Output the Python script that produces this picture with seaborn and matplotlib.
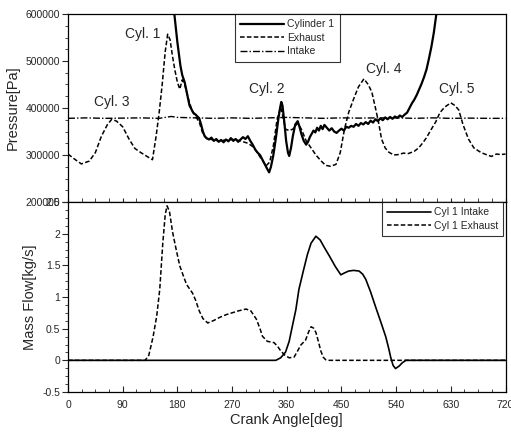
import matplotlib
matplotlib.use("Agg")
import matplotlib.pyplot as plt
import seaborn as sns
import pandas as pd
from matplotlib.ticker import MultipleLocator, AutoMinorLocator, FixedLocator

# ---------------- data ----------------
cyl_angle = [170, 175, 180, 185, 188, 192, 196, 200, 203, 206, 210, 213, 216, 219, 222, 225, 228,
             232, 236, 240, 244, 248, 252, 256, 260, 264, 268, 272, 276, 280, 284, 288, 292, 296,
             300, 304, 308, 312, 316, 320, 324, 328, 331, 334, 338, 342, 346, 349, 351, 353, 356,
             359, 362, 364, 367, 370, 374, 378, 381, 384, 388, 392, 395, 398, 401, 404, 407, 410,
             413, 416, 419, 422, 426, 430, 434, 438, 442, 446, 450, 454, 458, 462, 466, 470, 474,
             478, 482, 486, 490, 494, 498, 502, 506, 510, 514, 518, 522, 526, 530, 534, 538, 542,
             546, 550, 554, 558, 562, 566, 570, 574, 578, 582, 586, 590, 594, 598, 602, 606, 610]
cyl_pressure = [640000, 600000, 540000, 490000, 470000, 455000, 430000, 405000, 398000, 390000,
                386000, 382000, 378000, 365000, 350000, 340000, 336000, 333000, 337000, 330000,
                334000, 328000, 332000, 327000, 333000, 329000, 336000, 330000, 334000, 328000,
                333000, 338000, 334000, 340000, 330000, 322000, 312000, 305000, 300000, 290000,
                280000, 270000, 263000, 275000, 300000, 335000, 375000, 400000, 413000, 405000,
                370000, 330000, 305000, 298000, 315000, 340000, 365000, 372000, 360000, 345000,
                330000, 322000, 328000, 338000, 345000, 352000, 348000, 358000, 352000, 362000,
                355000, 364000, 358000, 352000, 357000, 350000, 347000, 352000, 356000, 352000,
                360000, 358000, 362000, 360000, 366000, 362000, 368000, 365000, 370000, 366000,
                373000, 369000, 376000, 372000, 378000, 374000, 380000, 376000, 381000, 377000,
                382000, 379000, 384000, 381000, 386000, 390000, 400000, 410000, 418000, 428000,
                440000, 452000, 466000, 482000, 505000, 530000, 560000, 598000, 640000]

exh_angle = [0, 10, 22, 35, 45, 55, 65, 72, 80, 90, 100, 110, 120, 130, 139, 145, 150, 155, 160,
             164, 168, 172, 176, 180, 184, 188, 192, 198, 204, 210, 216, 222, 228, 236, 248, 260,
             272, 284, 296, 304, 310, 318, 326, 332, 338, 344, 350, 354, 358, 364, 370, 378, 384,
             392, 400, 408, 416, 424, 432, 441, 448, 455, 462, 470, 478, 487, 494, 500, 506, 511,
             516, 522, 528, 536, 544, 552, 560, 570, 577, 584, 590, 598, 605, 612, 620, 630, 637,
             643, 650, 659, 668, 680, 690, 697, 705, 712, 720]
exh_pressure = [302000, 292000, 281000, 287000, 305000, 340000, 365000, 376000, 372000, 360000,
                335000, 314000, 305000, 297000, 290000, 340000, 390000, 450000, 520000, 557000,
                545000, 510000, 480000, 455000, 440000, 460000, 450000, 420000, 395000, 382000,
                370000, 345000, 335000, 333000, 330000, 332000, 333000, 330000, 325000, 318000,
                308000, 292000, 277000, 285000, 320000, 375000, 402000, 380000, 355000, 352000,
                355000, 368000, 355000, 330000, 315000, 300000, 288000, 278000, 276000, 280000,
                305000, 355000, 391000, 419000, 445000, 462000, 450000, 434000, 400000, 370000,
                334000, 315000, 306000, 300000, 301000, 304000, 303000, 308000, 315000, 326000,
                337000, 355000, 370000, 390000, 402000, 411000, 405000, 396000, 365000, 334000,
                315000, 305000, 300000, 297000, 302000, 301000, 302000]

int_angle = [0, 30, 60, 90, 120, 150, 170, 180, 210, 240, 270, 300, 330, 360, 390, 420, 450,
             480, 510, 540, 570, 600, 630, 660, 690, 720]
int_pressure = [378000, 379000, 378000, 378500, 379000, 378000, 382000, 380000, 379000, 378000,
                379000, 378000, 379000, 380000, 379000, 378000, 379000, 378500, 379000, 379000,
                378000, 379000, 378000, 378500, 378000, 378000]

mf_exh_angle = [0, 127, 133, 140, 146, 151, 156, 160, 163, 167, 172, 178, 184, 190, 195, 200, 205,
                210, 216, 222, 230, 240, 250, 260, 270, 280, 293, 301, 310, 316, 320, 328, 339,
                345, 350, 357, 364, 372, 378, 383, 391, 396, 400, 404, 408, 412, 416, 420, 424,
                430, 720]
mf_exh = [0, 0, 0.08, 0.37, 0.7, 1.12, 1.85, 2.3, 2.44, 2.35, 2.03, 1.75, 1.49, 1.33, 1.2, 1.13,
          1.06, 0.95, 0.78, 0.66, 0.59, 0.63, 0.68, 0.72, 0.75, 0.78, 0.81, 0.78, 0.65, 0.5, 0.38,
          0.3, 0.28, 0.22, 0.15, 0.08, 0.04, 0.05, 0.15, 0.24, 0.32, 0.45, 0.53, 0.51, 0.44, 0.3,
          0.15, 0.05, 0.01, 0, 0]

mf_int_angle = [0, 342, 350, 358, 364, 369, 375, 380, 388, 394, 400, 408, 415, 422, 430, 440, 449,
                455, 462, 470, 479, 485, 490, 498, 506, 515, 523, 528, 531, 535, 539, 545, 550,
                556, 720]
mf_int = [0, 0, 0.04, 0.13, 0.3, 0.53, 0.8, 1.12, 1.44, 1.67, 1.85, 1.96, 1.9, 1.78, 1.65, 1.48,
          1.35, 1.38, 1.41, 1.42, 1.41, 1.36, 1.28, 1.08, 0.85, 0.6, 0.37, 0.18, 0.05, -0.08,
          -0.13, -0.09, -0.04, 0, 0]

cyl_labels = ["Cyl. 1", "Cyl. 3", "Cyl. 2", "Cyl. 4", "Cyl. 5"]
cyl_label_x = [123, 72, 328, 520, 640]
cyl_label_y = [557000, 413000, 440000, 483000, 440000]

x_ticks = [0, 90, 180, 270, 360, 450, 540, 630, 720]
p_ticks = [200000, 300000, 400000, 500000, 600000]
mf_ticks = [-0.5, 0, 0.5, 1, 1.5, 2, 2.5]
mf_tick_labels = ["-0.5", "0", "0.5", "1", "1.5", "2", "2.5"]

# ---------------- style ----------------
sns.set_style("ticks")
plt.rcParams['font.family'] = ['Liberation Sans', 'DejaVu Sans']
plt.rcParams['axes.linewidth'] = 0.9

W, H = 511, 433
fig = plt.figure(figsize=(W / 100, H / 100), dpi=100)
left, right = 68 / W, 505.5 / W
ax1 = fig.add_axes([left, 1 - 202 / H, right - left, (202 - 14) / H])
ax2 = fig.add_axes([left, 1 - 392 / H, right - left, (392 - 202) / H])

df_cyl = pd.DataFrame({"angle": cyl_angle, "p": cyl_pressure})
df_exh = pd.DataFrame({"angle": exh_angle, "p": exh_pressure})
df_int = pd.DataFrame({"angle": int_angle, "p": int_pressure})

sns.lineplot(data=df_cyl, x="angle", y="p", ax=ax1, color="black", lw=1.6,
             label="Cylinder 1", sort=False)
sns.lineplot(data=df_exh, x="angle", y="p", ax=ax1, color="black", lw=1.1,
             linestyle=(0, (3, 1.5)), label="Exhaust", sort=False)
sns.lineplot(data=df_int, x="angle", y="p", ax=ax1, color="black", lw=1.0,
             linestyle=(0, (5, 1.5, 1, 1.5)), label="Intake", sort=False)

for t, xx, yy in zip(cyl_labels, cyl_label_x, cyl_label_y):
    ax1.text(xx, yy, t, fontsize=10, ha="center", va="center")

ax1.set_xlim(0, 720)
ax1.set_ylim(200000, 600000)
ax1.yaxis.set_major_locator(FixedLocator(p_ticks))
ax1.set_yticklabels([str(v) for v in p_ticks])
ax1.yaxis.set_minor_locator(AutoMinorLocator(4))
ax1.xaxis.set_major_locator(FixedLocator(x_ticks))
ax1.xaxis.set_minor_locator(AutoMinorLocator(4))
ax1.tick_params(axis="x", which="both", labelbottom=False, direction="in", length=3)
ax1.tick_params(axis="y", which="major", labelsize=7.5, length=4, width=0.8, pad=1.5)
ax1.tick_params(axis="y", which="minor", length=2.5, width=0.6)
ax1.set_xlabel("")
ax1.set_ylabel("Pressure[Pa]", fontsize=10.5, labelpad=4)
leg1 = ax1.legend(loc="upper left", bbox_to_anchor=(0.382, 1.0), borderaxespad=0,
                  fontsize=7.5, frameon=True, fancybox=False, edgecolor="black",
                  handlelength=4.2, handletextpad=0.3, labelspacing=0.35, borderpad=0.5)
leg1.get_frame().set_linewidth(0.8)

df_mi = pd.DataFrame({"angle": mf_int_angle, "m": mf_int})
df_me = pd.DataFrame({"angle": mf_exh_angle, "m": mf_exh})
sns.lineplot(data=df_mi, x="angle", y="m", ax=ax2, color="black", lw=1.2,
             label="Cyl 1 Intake", sort=False)
sns.lineplot(data=df_me, x="angle", y="m", ax=ax2, color="black", lw=1.1,
             linestyle=(0, (3, 1.5)), label="Cyl 1 Exhaust", sort=False)

ax2.set_xlim(0, 720)
ax2.set_ylim(-0.5, 2.5)
ax2.yaxis.set_major_locator(FixedLocator(mf_ticks))
ax2.set_yticklabels(mf_tick_labels)
ax2.yaxis.set_minor_locator(AutoMinorLocator(4))
ax2.xaxis.set_major_locator(FixedLocator(x_ticks))
ax2.set_xticklabels([str(v) for v in x_ticks])
ax2.xaxis.set_minor_locator(AutoMinorLocator(4))
ax2.tick_params(axis="x", which="major", labelsize=7.5, direction="in", length=4, width=0.8, pad=6)
ax2.tick_params(axis="x", which="minor", direction="in", length=2.5, width=0.6)
ax2.tick_params(axis="y", which="major", labelsize=7.5, length=4, width=0.8, pad=1.5)
ax2.tick_params(axis="y", which="minor", length=2.5, width=0.6)
ax2.set_xlabel("Crank Angle[deg]", fontsize=10.5, labelpad=2)
ax2.set_ylabel("Mass Flow[kg/s]", fontsize=10.5, labelpad=4)
leg2 = ax2.legend(loc="upper right", bbox_to_anchor=(0.995, 1.0), borderaxespad=0,
                  fontsize=7.5, frameon=True, fancybox=False, edgecolor="black",
                  handlelength=4.2, handletextpad=0.3, labelspacing=0.35, borderpad=0.5)
leg2.get_frame().set_linewidth(0.8)

for ax in (ax1, ax2):
    for s in ax.spines.values():
        s.set_color("black")

fig.savefig("out.png", dpi=100)
